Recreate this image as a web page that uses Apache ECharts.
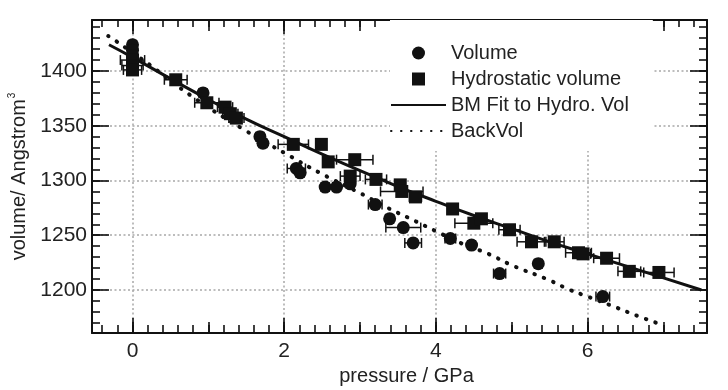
<!DOCTYPE html>
<html><head><meta charset="utf-8">
<script src="https://cdn.jsdelivr.net/npm/echarts@6/dist/echarts.min.js"></script>
<style>html,body{margin:0;padding:0;background:#fff}#c{width:728px;height:390px}</style>
</head><body><div id="c"></div>
<script>
// ---- data ----
const xRange = [-0.534, 7.574];
const yRange = [1160.7, 1446.6];
// Volume (circles) : pressure, volume, pressure error
const volP   = [0, 0, 0, 0.93, 1.68, 1.72, 2.16, 2.21, 2.54, 2.69, 2.87, 3.20, 3.39, 3.57, 3.70, 4.19, 4.47, 4.84, 5.35, 6.20];
const volV   = [1424, 1419, 1414, 1380, 1340, 1334, 1311, 1307, 1294, 1294, 1297, 1278, 1265, 1257, 1243, 1247, 1241, 1215, 1224, 1194];
const volErr = [0.05, 0.05, 0.05, 0.05, 0.05, 0.05, 0.12, 0.05, 0.05, 0.05, 0.05, 0.09, 0.05, 0.23, 0.11, 0.07, 0.05, 0.08, 0.05, 0.09];
// Hydrostatic volume (squares)
const hydP   = [0, 0, 0, 0.57, 0.98, 1.22, 1.29, 1.37, 2.12, 2.49, 2.58, 2.93, 2.87, 3.21, 3.53, 3.55, 3.73, 4.22, 4.50, 4.60, 4.97, 5.26, 5.56, 5.88, 5.94, 6.25, 6.55, 6.94];
const hydV   = [1410, 1405, 1401, 1392, 1371, 1367, 1361, 1357, 1333, 1333, 1317, 1319, 1304, 1301, 1296, 1290, 1285, 1274, 1261, 1265, 1255, 1244, 1244, 1234, 1233, 1229, 1217, 1216];
const hydErr = [0.16, 0.14, 0.12, 0.15, 0.16, 0.10, 0.10, 0.10, 0.20, 0.05, 0.05, 0.24, 0.13, 0.14, 0.05, 0.28, 0.08, 0.06, 0.25, 0.05, 0.14, 0.19, 0.13, 0.17, 0.10, 0.17, 0.15, 0.20];
// BM fit to hydrostatic volume (solid line)
const bmP = [-0.31, 0, 0.5, 1, 1.5, 2, 2.5, 3, 3.5, 4, 4.5, 5, 5.5, 6, 6.5, 7, 7.5];
const bmV = [1424, 1412.5, 1393, 1374, 1356, 1340, 1324, 1309, 1294.5, 1281, 1268, 1256, 1244, 1233, 1222, 1211, 1200];
// BackVol (dotted line)
const bvP = [-0.32, -0.21, 0.23, 0.76, 1.48, 2.02, 2.47, 3.0, 3.35, 3.68, 4.02, 4.34, 4.69, 5.02, 5.46, 5.77, 6.0, 6.34, 6.67, 6.99];
const bvV = [1432, 1427, 1405.5, 1378, 1346, 1324.5, 1307, 1288.5, 1275.5, 1264.5, 1253, 1242.5, 1233, 1222, 1210, 1200, 1194, 1185, 1176, 1168];
const legendNames = ['Volume', 'Hydrostatic volume', 'BM Fit to Hydro. Vol', 'BackVol'];
const xTitle = 'pressure / GPa';

// ---- chart ----
const FONT = '"Liberation Sans", Arial, sans-serif';
const zip = (a, b) => a.map((v, i) => [v, b[i]]);
const errData = (p, v, e) => p.map((x, i) => [x, v[i], e[i]]);

function xAx(pos, split, tickLen, main) {
  return {
    type: 'value', position: pos, min: xRange[0], max: xRange[1], splitNumber: split,
    axisLine: {show: !!main, onZero: false, lineStyle: {color: '#111', width: 2}},
    axisTick: {show: true, inside: true, length: tickLen, lineStyle: {color: '#111', width: 1.6}},
    axisLabel: main === 'label' ? {show: true, margin: 8, fontSize: 21, color: '#222', fontFamily: FONT,
      showMinLabel: false, showMaxLabel: false,
      formatter: v => (Math.abs(v) < 1e-9 ? '0' : String(Math.round(v)))} : {show: false},
    splitLine: main === 'label' ? {show: true, showMinLine: false, showMaxLine: false,
      lineStyle: {color: '#a8a8a8', width: 1.5, type: [2, 2.5]}} : {show: false},
    name: main === 'label' ? xTitle : '', nameLocation: 'middle', nameGap: 31,
    nameTextStyle: {fontSize: 20, color: '#222', fontFamily: FONT, padding: [0, 0, 0, 14]}
  };
}
function yAx(pos, split, tickLen, main) {
  return {
    type: 'value', position: pos, min: yRange[0], max: yRange[1], splitNumber: split,
    axisLine: {show: !!main, onZero: false, lineStyle: {color: '#111', width: 2}},
    axisTick: {show: true, inside: true, length: tickLen, lineStyle: {color: '#111', width: 1.6}},
    axisLabel: main === 'label' ? {show: true, margin: 5, fontSize: 21, color: '#222', fontFamily: FONT,
      showMinLabel: false, showMaxLabel: false, formatter: v => String(Math.round(v))} : {show: false},
    splitLine: main === 'label' ? {show: true, showMinLine: false, showMaxLine: false,
      lineStyle: {color: '#a8a8a8', width: 1.5, type: [2, 2.5]}} : {show: false},
    name: main === 'label' ? '{a|volume/ Angstrom}{s|3}' : '', nameLocation: 'middle', nameGap: 56,
    nameTextStyle: {fontFamily: FONT, color: '#222', rich: {
      a: {fontSize: 20, fontFamily: FONT, color: '#222', lineHeight: 24},
      s: {fontSize: 10, fontFamily: FONT, color: '#222', lineHeight: 24, verticalAlign: 'top', padding: [0, 0, 12, 1]}
    }}
  };
}

const errorBar = (data) => ({
  type: 'custom', xAxisIndex: 0, yAxisIndex: 0, z: 1, silent: true,
  data: data,
  renderItem: (params, api) => {
    const p = api.value(0), v = api.value(1), e = api.value(2);
    const a = api.coord([p - e, v]), b = api.coord([p + e, v]);
    const h = 5;
    const st = {stroke: '#111', lineWidth: 1.5};
    return {type: 'group', children: [
      {type: 'line', shape: {x1: a[0], y1: a[1], x2: b[0], y2: b[1]}, style: st},
      {type: 'line', shape: {x1: a[0], y1: a[1] - h, x2: a[0], y2: a[1] + h}, style: st},
      {type: 'line', shape: {x1: b[0], y1: b[1] - h, x2: b[0], y2: b[1] + h}, style: st}
    ]};
  }
});

const hidden = {opacity: 0};
const chart = echarts.init(document.getElementById('c'), null, {renderer: 'canvas'});
chart.setOption({
  animation: false,
  backgroundColor: '#fff',
  grid: {left: 92, right: 21, top: 20, bottom: 57, containLabel: false, outerBoundsMode: 'none'},
  xAxis: [
    xAx('bottom', 4, 15, 'label'), xAx('bottom', 8, 11), xAx('bottom', 40, 8),
    xAx('top', 4, 14, 'line'), xAx('top', 8, 11), xAx('top', 40, 7)
  ],
  yAxis: [
    yAx('left', 6, 17, 'label'), yAx('left', 28, 8),
    yAx('right', 6, 17, 'line'), yAx('right', 28, 8)
  ],
  legend: {
    orient: 'vertical', left: 390, top: 20,
    data: [
      {name: legendNames[0], icon: 'circle'},
      {name: legendNames[1], icon: 'path://M0 0H10V10H0Z'},
      {name: legendNames[2], itemStyle: hidden},
      {name: legendNames[3], itemStyle: hidden}
    ],
    itemWidth: 55, itemHeight: 13, itemGap: 6, symbolKeepAspect: true,
    padding: [23, 24, 10, 0],
    backgroundColor: '#fff',
    textStyle: {fontSize: 20, color: '#222', fontFamily: FONT, lineHeight: 16},
    selectedMode: false
  },
  series: [
    errorBar(errData(volP, volV, volErr)),
    errorBar(errData(hydP, hydV, hydErr)),
    {name: legendNames[0], type: 'scatter', symbol: 'circle', symbolSize: 13, z: 3,
     itemStyle: {color: '#111', opacity: 1}, data: zip(volP, volV)},
    {name: legendNames[1], type: 'scatter', symbol: 'rect', symbolSize: 13, z: 3,
     itemStyle: {color: '#111', opacity: 1}, data: zip(hydP, hydV)},
    {name: legendNames[2], type: 'line', symbol: 'none', smooth: true, z: 2,
     lineStyle: {color: '#111', width: 3}, itemStyle: {color: '#111'}, data: zip(bmP, bmV)},
    {name: legendNames[3], type: 'line', symbol: 'none', smooth: true, z: 2,
     lineStyle: {color: '#111', width: 4, type: [0.5, 9.5], cap: 'round'}, itemStyle: {color: '#111'},
     data: zip(bvP, bvV)}
  ]
});
</script></body></html>
